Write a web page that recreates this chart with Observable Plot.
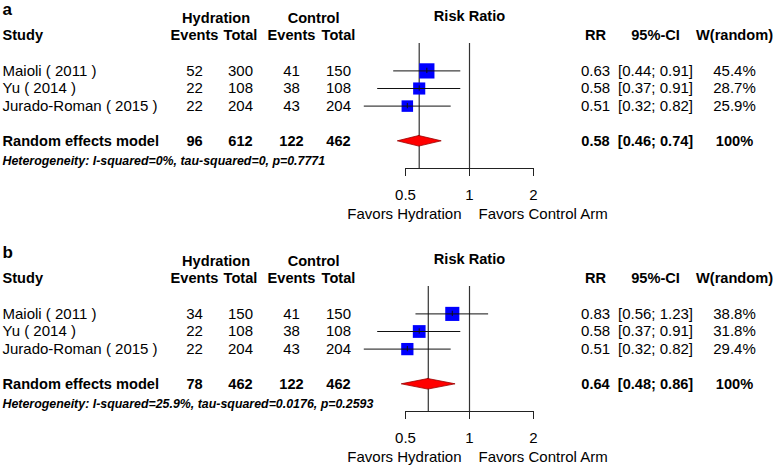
<!DOCTYPE html>
<html><head><meta charset="utf-8">
<script src="https://cdn.jsdelivr.net/npm/d3@7"></script>
<script src="https://cdn.jsdelivr.net/npm/@observablehq/plot@0.6"></script>
<style>
body{margin:0;background:#fff;font-family:"Liberation Sans",Arial,sans-serif;}
#chart{width:778px;}
.panel{position:relative;width:778px;overflow:hidden;}
.panel svg{position:absolute;left:0;top:0;}
</style></head><body><div id="chart"></div>
<script>
// ---------- data ----------
const studies = ["Maioli ( 2011 )", "Yu ( 2014 )", "Jurado-Roman ( 2015 )"];

// panel a
const hydEventsA = [52, 22, 22];
const hydTotalA  = [300, 108, 204];
const ctlEventsA = [41, 38, 43];
const ctlTotalA  = [150, 108, 204];
const rrA = [0.63, 0.58, 0.51];
const loA = [0.44, 0.37, 0.32];
const hiA = [0.91, 0.91, 0.82];
const weightA = [45.4, 28.7, 25.9];
const pooledA = [96, 612, 122, 462];          // events/total hydration, events/total control
const pooledRRA = [0.58, 0.46, 0.74];         // rr, lo, hi
const hetA = "Heterogeneity: I-squared=0%, tau-squared=0, p=0.7771";

// panel b
const hydEventsB = [34, 22, 22];
const hydTotalB  = [150, 108, 204];
const ctlEventsB = [41, 38, 43];
const ctlTotalB  = [150, 108, 204];
const rrB = [0.83, 0.58, 0.51];
const loB = [0.56, 0.37, 0.32];
const hiB = [1.23, 0.91, 0.82];
const weightB = [38.8, 31.8, 29.4];
const pooledB = [78, 462, 122, 462];
const pooledRRB = [0.64, 0.48, 0.86];
const hetB = "Heterogeneity: I-squared=25.9%, tau-squared=0.0176, p=0.2593";

// labels
const panelLabels = ["a", "b"];
const groupHeaders = ["Hydration", "Control"];
const columnHeaders = ["Events", "Total", "Events", "Total", "RR", "95%-CI", "W(random)"];
const studyHeader = "Study";
const pooledLabel = "Random effects model";
const pooledWeight = "100%";
const forestTitle = "Risk Ratio";
const favorLabels = ["Favors Hydration", "Favors Control Arm"];
const xTicks = [0.5, 1, 2];
const nullRR = 1;

// ---------- layout (styles) ----------
const FONT = "'Liberation Sans', Arial, sans-serif";
const ROW = 17.6;
const colIndex = [0, 1, 2, 3, 4, 5, 6];
const colPixels = [194, 240, 291, 338, 595, 655, 734];
const f2 = d3.format(".2f");

function buildPanel(p) {
  const H = p.height;
  const div = document.createElement("div");
  div.className = "panel";
  div.style.height = H + "px";

  const studyRows = studies.map((name, i) => ({
    name, row: 4 + i,
    vals: [p.hydEvents[i], p.hydTotal[i], p.ctlEvents[i], p.ctlTotal[i]],
    rr: p.rr[i], lo: p.lo[i], hi: p.hi[i], w: p.weight[i]
  }));
  const pooledRow = 8;

  const normalCells = [];
  studyRows.forEach(s => {
    s.vals.forEach((v, j) => normalCells.push({col: j, row: s.row, text: String(v)}));
    normalCells.push({col: 4, row: s.row, text: f2(s.rr)});
    normalCells.push({col: 5, row: s.row, text: `[${f2(s.lo)}; ${f2(s.hi)}]`});
    normalCells.push({col: 6, row: s.row, text: `${s.w.toFixed(1)}%`});
  });
  const boldCells = [];
  columnHeaders.forEach((t, j) => boldCells.push({col: j, row: 2, text: t}));
  groupHeaders.forEach((t, j) => boldCells.push({col: 0.47 + 2 * j, row: 1, text: t}));
  p.pooled.forEach((v, j) => boldCells.push({col: j, row: pooledRow, text: String(v)}));
  boldCells.push({col: 4, row: pooledRow, text: f2(p.pooledRR[0])});
  boldCells.push({col: 5, row: pooledRow, text: `[${f2(p.pooledRR[1])}; ${f2(p.pooledRR[2])}]`});
  boldCells.push({col: 6, row: pooledRow, text: pooledWeight});

  const leftBold = [
    {row: 2, text: studyHeader},
    {row: pooledRow, text: pooledLabel}
  ];

  const table = Plot.plot({
    width: 778, height: H,
    marginLeft: 2, marginRight: 0, marginTop: 0, marginBottom: 0,
    x: {type: "linear", domain: colIndex, range: colPixels, axis: null},
    y: {domain: [0, 1], range: [0, ROW], axis: null},
    style: {background: "transparent", fontFamily: FONT, color: "#000", overflow: "visible"},
    marks: [
      Plot.text([p.label], {frameAnchor: "left", textAnchor: "start", y: 0.5, text: d => d, fontSize: 17, fontWeight: "bold"}),
      Plot.text(studyRows, {frameAnchor: "left", textAnchor: "start", y: "row", text: "name", fontSize: 15}),
      Plot.text(leftBold, {frameAnchor: "left", textAnchor: "start", y: "row", text: "text", fontSize: 14.6, fontWeight: "bold"}),
      Plot.text([p.het], {frameAnchor: "left", textAnchor: "start", y: pooledRow + 1.1, text: d => d, fontSize: 12.4, fontWeight: "bold", fontStyle: "italic"}),
      Plot.text(normalCells, {x: "col", y: "row", text: "text", fontSize: 15}),
      Plot.text(boldCells, {x: "col", y: "row", text: "text", fontSize: 14.6, fontWeight: "bold"})
    ]
  });

  const diamond = [
    {y: pooledRow - 0.3, x1: p.pooledRR[0], x2: p.pooledRR[0]},
    {y: pooledRow, x1: p.pooledRR[1], x2: p.pooledRR[2]},
    {y: pooledRow + 0.3, x1: p.pooledRR[0], x2: p.pooledRR[0]}
  ];

  const forest = Plot.plot({
    width: 778, height: H,
    marginLeft: 405, marginRight: 245, marginTop: 43, marginBottom: H - 168,
    x: {type: "log", domain: [0.5, 2]},
    y: {domain: [0, 1], range: [0, ROW], axis: null},
    r: {type: "sqrt", domain: [0, 45.4], range: [0, 8.6]},
    style: {background: "transparent", fontFamily: FONT, color: "#000", overflow: "visible"},
    marks: [
      Plot.frame({anchor: "bottom", stroke: "#222"}),
      Plot.axisX({ticks: xTicks, tickFormat: d => String(d), tickSize: 8, tickPadding: 13, fontSize: 15, stroke: "#222", label: null}),
      Plot.ruleX([nullRR], {stroke: "#333", strokeWidth: 1.2}),
      Plot.ruleX([p.pooledRR[0]], {stroke: "#333", strokeWidth: 1.2}),
      Plot.dot(studyRows, {x: "rr", y: "row", r: "w", symbol: "square", fill: "#0000ff"}),
      Plot.ruleY(studyRows, {y: "row", x1: "lo", x2: "hi", stroke: "#111", strokeWidth: 1}),
      Plot.ruleX(studyRows, {x: "rr", y1: d => d.row - 0.15, y2: d => d.row + 0.15, stroke: "#111", strokeWidth: 1}),
      Plot.areaX(diamond, {y: "y", x1: "x1", x2: "x2", fill: "#ff0000", stroke: "#990000", strokeWidth: 0.8, curve: "linear"}),
      Plot.text([forestTitle], {x: nullRR, y: 0.9, text: d => d, fontSize: 14.6, fontWeight: "bold"}),
      Plot.text([favorLabels[0]], {x: nullRR, y: 12.15, text: d => d, fontSize: 15, textAnchor: "end", dx: -8}),
      Plot.text([favorLabels[1]], {x: nullRR, y: 12.15, text: d => d, fontSize: 15, textAnchor: "start", dx: 9})
    ]
  });

  div.appendChild(forest);
  div.appendChild(table);
  return div;
}

const chart = document.getElementById("chart");
chart.appendChild(buildPanel({
  label: panelLabels[0], height: 243,
  hydEvents: hydEventsA, hydTotal: hydTotalA, ctlEvents: ctlEventsA, ctlTotal: ctlTotalA,
  rr: rrA, lo: loA, hi: hiA, weight: weightA, pooled: pooledA, pooledRR: pooledRRA, het: hetA
}));
chart.appendChild(buildPanel({
  label: panelLabels[1], height: 223,
  hydEvents: hydEventsB, hydTotal: hydTotalB, ctlEvents: ctlEventsB, ctlTotal: ctlTotalB,
  rr: rrB, lo: loB, hi: hiB, weight: weightB, pooled: pooledB, pooledRR: pooledRRB, het: hetB
}));
</script></body></html>
